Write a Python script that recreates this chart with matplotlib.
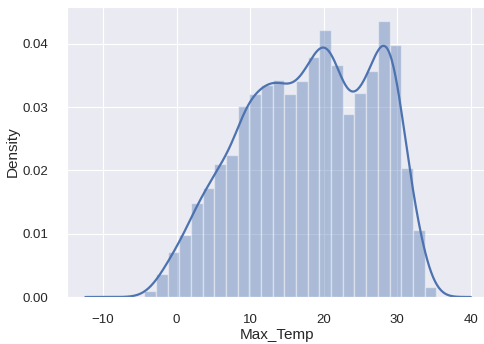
import numpy as np
import matplotlib
matplotlib.use("Agg")
import matplotlib.pyplot as plt
import seaborn as sns

# Histogram data (density per bin)
bin_lo = -4.4
bin_hi = 35.3
densities = [0.00092, 0.00371, 0.00707, 0.00981, 0.01485, 0.01717, 0.02106,
             0.02248, 0.0301, 0.0320, 0.03347, 0.03425, 0.0320, 0.03415,
             0.03793, 0.04214, 0.03662, 0.02884, 0.0322, 0.03562, 0.04361,
             0.03983, 0.02037, 0.01065, 0.0016]
kde_lo = -12.4
kde_hi = 40.0
kde_bw = 1.4
xticks = [-10, 0, 10, 20, 30, 40]
yticks = [0.00, 0.01, 0.02, 0.03, 0.04]

sns.set_style("darkgrid")
plt.rcParams['font.family'] = ['Liberation Sans', 'DejaVu Sans']

fig = plt.figure(figsize=(4.85, 3.44), dpi=100)
ax = fig.add_axes([67/485, 47/344, 420/485, 290/344])

dens = np.array(densities)
n = len(dens)
edges = np.linspace(bin_lo, bin_hi, n + 1)
width = edges[1] - edges[0]
color = "#4C72B0"
ax.bar(edges[:-1], dens, width=width, align="edge", color=color, alpha=0.4,
       edgecolor="white", linewidth=1.0)

# smooth density estimate derived from binned densities
centers = (edges[:-1] + edges[1:]) / 2
w = dens * width
w = w / w.sum()
sig = np.sqrt(kde_bw**2 + width**2 / 12)
grid = np.linspace(kde_lo, kde_hi, 400)
kde = (w[None, :] * np.exp(-0.5 * ((grid[:, None] - centers[None, :]) / sig) ** 2)
       / (sig * np.sqrt(2 * np.pi))).sum(axis=1)
ax.plot(grid, kde, color=color, lw=1.6)

ax.set_xlim(-14.9, 42.2)
ax.set_ylim(0, 0.0458)
ax.set_xticks(xticks)
ax.set_yticks(yticks)
ax.set_yticklabels([f"{t:.2f}" for t in yticks])
ax.tick_params(labelsize=9.5, colors="#262626")
ax.tick_params(axis="y", pad=10)
ax.tick_params(axis="x", pad=9)
ax.set_xlabel("Max_Temp", fontsize=11, color="#262626", labelpad=1)
ax.set_ylabel("Density", fontsize=11, color="#262626", labelpad=2)

fig.savefig("out.png", dpi=100)
